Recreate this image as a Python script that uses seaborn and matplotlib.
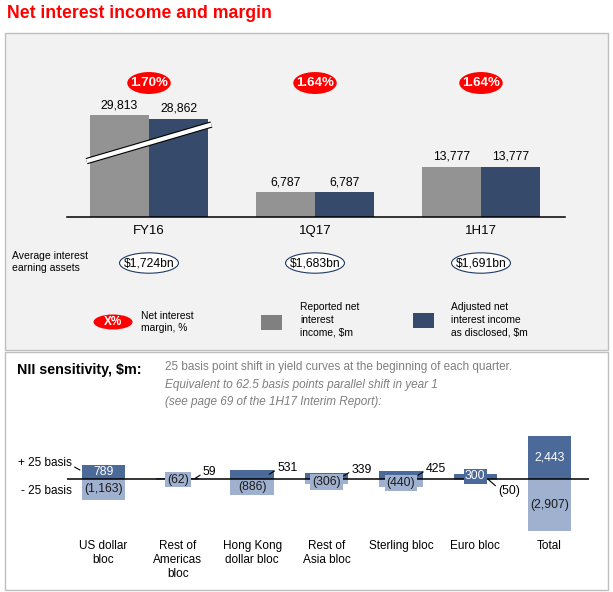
import matplotlib
matplotlib.use("Agg")
import matplotlib.pyplot as plt
from matplotlib.patches import Ellipse, Rectangle
import seaborn as sns
import pandas as pd

plt.rcParams["font.family"] = ["Liberation Sans", "DejaVu Sans"]

# ---- data: top panel ----
periods = ["FY16", "1Q17", "1H17"]
reported_nii = [29813, 6787, 13777]
adjusted_nii = [28862, 6787, 13777]
nim_pct = ["1.70%", "1.64%", "1.64%"]
avg_assets = ["$1,724bn", "$1,683bn", "$1,691bn"]
axis_break = [1800, 0, 0]  # FY16 drawn on a broken axis

# ---- data: NII sensitivity ----
blocs = ["US dollar\nbloc", "Rest of\nAmericas\nbloc", "Hong Kong\ndollar bloc",
         "Rest of\nAsia bloc", "Sterling bloc", "Euro bloc", "Total"]
shift_up = [789, 59, 531, 339, 425, 300, 2443]
shift_down = [-1163, -62, -886, -306, -440, -50, -2907]

# label placement per bloc: in = inside bar, box = boxed on bar, out = leader line
up_mode = ["in", "out", "out", "out", "out", "box", "in"]
down_mode = ["in", "box", "in", "box", "box", "out", "in"]

GREY = "#939393"
NAVY = "#364b6c"
DARK = "#4b6a99"
LIGHT = "#9fb1cf"
RED = "#ff0000"
FW, FH = 613, 592


def px_rect(x0, y0, x1, y1):
    """pixel box (top-left origin) -> figure rect"""
    return [x0 / FW, 1 - y1 / FH, (x1 - x0) / FW, (y1 - y0) / FH]


fig = plt.figure(figsize=(FW / 100, FH / 100), dpi=100, facecolor="white")

# background layer in pixel coords
bg = fig.add_axes([0, 0, 1, 1], zorder=0)
bg.set_xlim(0, FW)
bg.set_ylim(FH, 0)
bg.axis("off")
bg.add_patch(Rectangle((5, 33), 603, 317, fc="#f2f2f2", ec="#bfbfbf", lw=1))
bg.add_patch(Rectangle((5, 352), 603, 238, fc="white", ec="#bfbfbf", lw=1))

bg.text(7, 13, "Net interest income and margin", color=RED, fontsize=12.7,
        fontweight="bold", va="center")
bg.text(12, 262, "Average interest\nearning assets", fontsize=7.5, va="center",
        linespacing=1.25)

# legend
bg.add_patch(Ellipse((113, 322), 39, 15, fc=RED, ec="none"))
bg.text(113, 322, "X%", color="white", fontweight="bold", fontsize=8.5,
        ha="center", va="center")
bg.text(141, 322, "Net interest\nmargin, %", fontsize=7.4, va="center", linespacing=1.3)
bg.add_patch(Rectangle((261, 315), 21, 15, fc="#808080", ec="none"))
bg.text(300, 320, "Reported net\ninterest\nincome, $m", fontsize=7.4, va="center",
        linespacing=1.35)
bg.add_patch(Rectangle((413, 313), 21, 15, fc=NAVY, ec="none"))
bg.text(451, 320, "Adjusted net\ninterest income\nas disclosed, $m", fontsize=7.4,
        va="center", linespacing=1.35)

# bottom header
bg.text(17, 370, "NII sensitivity, $m:", fontsize=10.3, fontweight="bold", va="center")
bg.text(165, 367, "25 basis point shift in yield curves at the beginning of each quarter.",
        fontsize=8.5, color="#7f7f7f", va="center")
bg.text(165, 385, "Equivalent to 62.5 basis points parallel shift in year 1",
        fontsize=8.5, color="#7f7f7f", va="center", style="italic")
bg.text(165, 402, "(see page 69 of the 1H17 Interim Report):",
        fontsize=8.5, color="#7f7f7f", va="center", style="italic")

# ---- top chart ----
ax1 = fig.add_axes(px_rect(67, 40, 565, 217), zorder=1)
ax1.set_facecolor("none")
df = pd.DataFrame({
    "period": periods * 2,
    "measure": ["Reported"] * 3 + ["Adjusted"] * 3,
    "value": reported_nii + adjusted_nii,
})
df["drawn"] = df["value"] - axis_break * 2
sns.barplot(data=df, x="period", y="drawn", hue="measure", palette=[GREY, NAVY],
            width=0.712, saturation=1, legend=False, errorbar=None, linewidth=0, ax=ax1)
for cont, vals in zip(ax1.containers, [reported_nii, adjusted_nii]):
    ax1.bar_label(cont, labels=[f"{v:,}" for v in vals], padding=3, fontsize=8.8)

# axis-break stripe across FY16 bars
b0 = ax1.containers[0][0]
b1 = ax1.containers[1][0]
xs = [b0.get_x() - 0.02, b1.get_x() + b1.get_width() + 0.02]
ys = [b0.get_height() * 0.55, b0.get_height() * 0.91]
ax1.plot(xs, ys, color="black", lw=4.6, solid_capstyle="butt", zorder=4)
ax1.plot(xs, ys, color="white", lw=3.0, solid_capstyle="butt", zorder=5)

ax1.set_xlim(-0.494, 2.506)
ax1.set_ylim(0, 48800)
ax1.set_yticks([])
ax1.set_xlabel("")
ax1.set_ylabel("")
for s in ["top", "left", "right"]:
    ax1.spines[s].set_visible(False)
ax1.spines["bottom"].set_linewidth(1.1)
ax1.tick_params(axis="x", length=0, pad=6, labelsize=9.5)

trans = ax1.get_xaxis_transform()
for i, (m, a) in enumerate(zip(nim_pct, avg_assets)):
    ax1.add_patch(Ellipse((i, 0.757), 0.262, 0.124, transform=trans, fc=RED,
                          ec="none", clip_on=False))
    ax1.text(i, 0.757, m, transform=trans, ha="center", va="center", color="white",
             fontweight="bold", fontsize=9.5)
    ax1.add_patch(Ellipse((i, -0.26), 0.355, 0.115, transform=trans, fc="white",
                          ec="#1f3864", lw=0.8, clip_on=False))
    ax1.text(i, -0.26, a, transform=trans, ha="center", va="center", fontsize=8.7)

# ---- NII sensitivity chart ----
ax2 = fig.add_axes(px_rect(67, 430, 589, 533), zorder=1)
ax2.set_facecolor("none")
bw = 0.583
sns.barplot(x=blocs, y=shift_up, color=DARK, width=bw, saturation=1,
            errorbar=None, linewidth=0, ax=ax2)
sns.barplot(x=blocs, y=shift_down, color=LIGHT, width=bw, saturation=1,
            errorbar=None, linewidth=0, ax=ax2)
ax2.axhline(0, color="black", lw=1.1, zorder=2.5)

line_kw = dict(arrowstyle="-", lw=0.8, color="black", shrinkA=0, shrinkB=0)
for i, (u, d) in enumerate(zip(shift_up, shift_down)):
    up_txt = f"{u:,}"
    dn_txt = f"({-d:,})"
    if up_mode[i] == "in":
        ax2.text(i, u / 2, up_txt, ha="center", va="center", color="white", fontsize=8.8)
    elif up_mode[i] == "box":
        ax2.text(i, u / 2, up_txt, ha="center", va="center", color="white", fontsize=8.8,
                 bbox=dict(boxstyle="square,pad=0.12", fc=DARK, ec="none"), zorder=4)
    else:
        ax2.annotate(up_txt, xy=(i + 0.23, u * 0.5), xytext=(5.8, 4.5),
                     textcoords="offset points", ha="left", va="center", fontsize=8.8,
                     arrowprops=dict(relpos=(0, 0.4), **line_kw))
    if down_mode[i] == "in":
        ax2.text(i, d / 2, dn_txt, ha="center", va="center", color="#1a1a1a", fontsize=8.8)
    elif down_mode[i] == "box":
        ax2.text(i, d / 2, dn_txt, ha="center", va="center", color="#1a1a1a", fontsize=8.8,
                 bbox=dict(boxstyle="square,pad=0.15", fc=LIGHT, ec="none"), zorder=4)
    else:
        ax2.annotate(dn_txt, xy=(i + 0.175, d * 0.5), xytext=(7.2, -8),
                     textcoords="offset points", ha="left", va="center", fontsize=8.8,
                     arrowprops=dict(relpos=(0, 0.7), **line_kw))

ax2.annotate("+ 25 basis", xy=(-bw / 2 - 0.025, shift_up[0] * 0.64), xytext=(-5.8, 5),
             textcoords="offset points", ha="right", va="center", fontsize=8.5,
             arrowprops=dict(relpos=(1, 0.3), **line_kw), annotation_clip=False)
ax2.annotate("- 25 basis", xy=(-bw / 2, shift_down[0] * 0.58), xytext=(-7.2, 0),
             textcoords="offset points", ha="right", va="center", fontsize=8.5,
             annotation_clip=False)

ax2.set_xlim(-0.49, 6.53)
ax2.set_ylim(-3034, 2753)
ax2.set_yticks([])
ax2.set_xlabel("")
ax2.set_ylabel("")
for s in ax2.spines.values():
    s.set_visible(False)
ax2.tick_params(axis="x", length=0, pad=5, labelsize=8.5)

fig.savefig("out.png", dpi=100, facecolor="white")
